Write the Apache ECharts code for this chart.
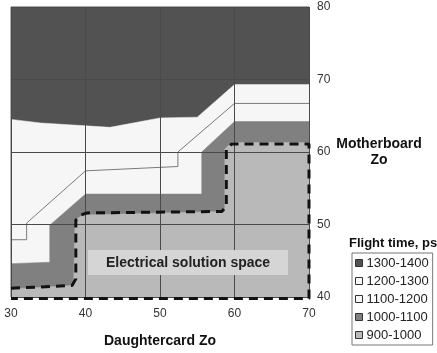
<!DOCTYPE html>
<html>
<head>
<meta charset="utf-8">
<script src="https://cdn.jsdelivr.net/npm/echarts@6/dist/echarts.min.js"></script>
<style>
  html, body { margin: 0; padding: 0; background: #fff; }
  #main { width: 437px; height: 353px; }
</style>
</head>
<body>
<div id="main"></div>
<script>
// Flight time bands, each given by its upper boundary [daughtercard Zo, motherboard Zo]
var bandNames = ['1300-1400', '1200-1300', '1100-1200', '1000-1100', '900-1000'];
var bandColors = ['#525252', '#f6f6f6', '#f6f6f6', '#808080', '#b9b9b9'];

var top1300 = [[30, 80], [70, 80]];
var top1200 = [[30, 64.5], [34, 64.0], [43.3, 63.4], [50, 64.7], [55, 64.8], [60, 69.3], [70, 69.3]];
var top1100 = [[30, 47.9], [32.1, 47.9], [32.1, 50.2], [40, 57.4], [52.4, 58.0], [52.4, 60.0], [60, 66.7], [70, 66.7]];
var top1000 = [[30, 44.6], [35.2, 44.8], [35.2, 49.9], [40, 54.2], [55.6, 54.2], [55.6, 60.0], [60, 64.2], [70, 64.2]];
var top900  = [[30, 41.1], [38.4, 41.6], [38.6, 50.6], [39.6, 51.3], [58.7, 51.8], [58.7, 60.4], [59.6, 61.3], [70, 61.3]];

// dashed outline of the electrical solution space
var solutionSpace = [[30, 41.2], [38.2, 41.6], [38.7, 42.5], [38.7, 50.6], [39.4, 51.3], [40.2, 51.6],
  [58.3, 51.8], [58.9, 52.5], [58.9, 60.3], [59.6, 61.1], [70, 61.1], [70, 39.8], [30, 39.8]];

var xTicks = [30, 40, 50, 60, 70];
var yTicks = [40, 50, 60, 70, 80];

var bandData = [top1300, top1200, top1100, top1000, top900];

var chart = echarts.init(document.getElementById('main'));

var series = bandData.map(function (d, i) {
  return {
    name: bandNames[i],
    type: 'line',
    data: d,
    smooth: false,
    showSymbol: false,
    silent: true,
    z: 1,
    itemStyle: { color: bandColors[i] },
    lineStyle: {
      color: i === 2 ? '#7a7a7a' : bandColors[i],
      width: i === 2 ? 1 : 0.5
    },
    areaStyle: { color: bandColors[i], opacity: 1, origin: 'start' }
  };
});

series.push({
  name: 'Electrical solution space',
  type: 'line',
  data: solutionSpace,
  showSymbol: false,
  silent: true,
  clip: false,
  z: 5,
  lineStyle: { color: '#111', width: 3, type: [9, 6] }
});

var font = 'Liberation Sans, Arial, sans-serif';

var option = {
  animation: false,
  textStyle: { fontFamily: font },
  grid: {
    left: 11, right: 128, top: 7, bottom: 47,
    show: true, borderColor: '#666', borderWidth: 1, backgroundColor: '#fff'
  },
  title: {
    text: 'Flight time, ps',
    left: 349, top: 237,
    padding: 0,
    textStyle: { fontSize: 13, fontWeight: 'bold', color: '#111', fontFamily: font }
  },
  legend: {
    data: bandNames.map(function (n, i) {
      return {
        name: n,
        icon: 'rect',
        itemStyle: { color: bandColors[i], borderColor: '#333', borderWidth: 1 }
      };
    }),
    orient: 'vertical',
    left: 352, top: 253,
    itemWidth: 7, itemHeight: 7,
    itemGap: 4,
    padding: [3, 4, 3, 3],
    borderColor: '#777', borderWidth: 1,
    selectedMode: false,
    textStyle: { fontSize: 13, color: '#222', lineHeight: 14, padding: [0, 0, 0, -1], fontFamily: font }
  },
  xAxis: {
    type: 'value',
    min: xTicks[0], max: xTicks[xTicks.length - 1], interval: 10,
    z: 3,
    name: 'Daughtercard Zo',
    nameLocation: 'middle',
    nameGap: 37,
    nameTextStyle: { fontSize: 14, fontWeight: 'bold', color: '#111' },
    axisLine: { show: false },
    axisTick: { show: false },
    axisLabel: { fontSize: 12, color: '#333', margin: 11 },
    splitLine: { show: true, lineStyle: { color: '#4a4a4a', width: 1 } }
  },
  yAxis: {
    type: 'value',
    position: 'right',
    min: yTicks[0], max: yTicks[yTicks.length - 1], interval: 10,
    z: 3,
    name: 'Motherboard\nZo',
    nameLocation: 'middle',
    nameRotate: 0,
    nameGap: 67,
    nameTextStyle: { fontSize: 14, fontWeight: 'bold', color: '#111', align: 'center', lineHeight: 16 },
    axisLine: { show: false },
    axisTick: { show: false },
    axisLabel: { fontSize: 12, color: '#333', margin: 8 },
    splitLine: { show: true, lineStyle: { color: '#4a4a4a', width: 1 } }
  },
  graphic: [
    {
      type: 'rect',
      z: 10,
      shape: { x: 88, y: 250, width: 200, height: 25 },
      style: { fill: '#d5d5d5' }
    },
    {
      type: 'text',
      z: 11,
      x: 188, y: 263,
      style: {
        text: 'Electrical solution space',
        font: 'bold 14px ' + font,
        fill: '#222',
        textAlign: 'center',
        textVerticalAlign: 'middle'
      }
    }
  ],
  series: series
};

chart.setOption(option);
</script>
</body>
</html>
